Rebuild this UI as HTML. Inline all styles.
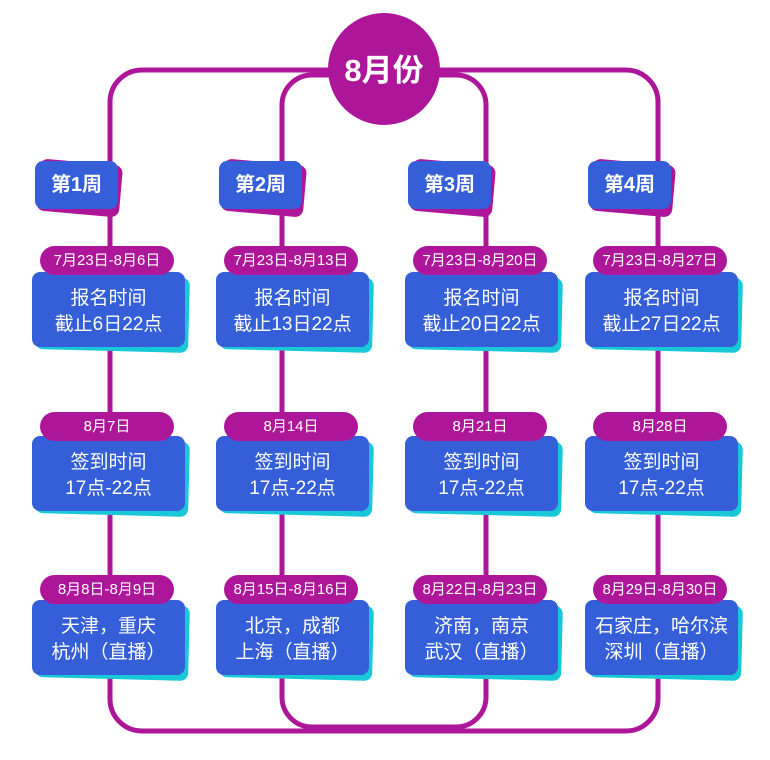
<!DOCTYPE html>
<html><head><meta charset="utf-8"><style>
body{margin:0;width:770px;height:760px;background:#fff;position:relative;overflow:hidden;font-family:"Liberation Sans","Noto Sans CJK SC",sans-serif;}
.a{position:absolute}
.box{position:absolute;width:153px;height:75px;background:#345fd8;border-radius:8px;color:#fff;font-size:19px;line-height:26px;text-align:center;box-sizing:border-box;padding-top:14px}
.sh{position:absolute;width:153px;height:75px;background:#19c8d6;border-radius:8px;transform:rotate(1.5deg);}
.pill{position:absolute;width:134px;height:29px;background:#ae169a;border-radius:15px;color:#fff;font-size:15px;line-height:29px;text-align:center}
.tag{position:absolute;width:83px;height:48px;background:#345fd8;border-radius:8px;color:#fff;font-size:20px;font-weight:bold;line-height:48px;text-align:center}
.tsh{position:absolute;width:83px;height:52px;background:#ae169a;border-radius:8px;transform:rotate(5deg)}
</style></head><body>
<svg class="a" style="left:0;top:0" width="770" height="760">
<rect x="110" y="70" width="548" height="661" rx="32" fill="none" stroke="#ae169a" stroke-width="5"/>
<rect x="282" y="75" width="204" height="652" rx="30" fill="none" stroke="#ae169a" stroke-width="5"/>
<circle cx="384" cy="69" r="56" fill="#ae169a"/>
<text x="384" y="81" text-anchor="middle" fill="#fff" font-size="31" font-weight="bold" font-family="Liberation Sans,Noto Sans CJK SC,sans-serif">8月份</text>
</svg>

<div class="tsh" style="left:38px;top:162px"></div><div class="tag" style="left:35px;top:161px">第1周</div>
<div class="tsh" style="left:222px;top:162px"></div><div class="tag" style="left:219px;top:161px">第2周</div>
<div class="tsh" style="left:411px;top:162px"></div><div class="tag" style="left:408px;top:161px">第3周</div>
<div class="tsh" style="left:591px;top:162px"></div><div class="tag" style="left:588px;top:161px">第4周</div>

<div class="sh" style="left:36px;top:276px"></div><div class="box" style="left:32px;top:272px">报名时间<br>截止6日22点</div><div class="pill" style="left:40px;top:246px">7月23日-8月6日</div>
<div class="sh" style="left:220px;top:276px"></div><div class="box" style="left:216px;top:272px">报名时间<br>截止13日22点</div><div class="pill" style="left:224px;top:246px">7月23日-8月13日</div>
<div class="sh" style="left:409px;top:276px"></div><div class="box" style="left:405px;top:272px">报名时间<br>截止20日22点</div><div class="pill" style="left:413px;top:246px">7月23日-8月20日</div>
<div class="sh" style="left:589px;top:276px"></div><div class="box" style="left:585px;top:272px">报名时间<br>截止27日22点</div><div class="pill" style="left:593px;top:246px">7月23日-8月27日</div>

<div class="sh" style="left:36px;top:440px"></div><div class="box" style="left:32px;top:436px">签到时间<br>17点-22点</div><div class="pill" style="left:40px;top:412px">8月7日</div>
<div class="sh" style="left:220px;top:440px"></div><div class="box" style="left:216px;top:436px">签到时间<br>17点-22点</div><div class="pill" style="left:224px;top:412px">8月14日</div>
<div class="sh" style="left:409px;top:440px"></div><div class="box" style="left:405px;top:436px">签到时间<br>17点-22点</div><div class="pill" style="left:413px;top:412px">8月21日</div>
<div class="sh" style="left:589px;top:440px"></div><div class="box" style="left:585px;top:436px">签到时间<br>17点-22点</div><div class="pill" style="left:593px;top:412px">8月28日</div>

<div class="sh" style="left:36px;top:604px"></div><div class="box" style="left:32px;top:600px">天津，重庆<br>杭州（直播）</div><div class="pill" style="left:40px;top:575px">8月8日-8月9日</div>
<div class="sh" style="left:220px;top:604px"></div><div class="box" style="left:216px;top:600px">北京，成都<br>上海（直播）</div><div class="pill" style="left:224px;top:575px">8月15日-8月16日</div>
<div class="sh" style="left:409px;top:604px"></div><div class="box" style="left:405px;top:600px">济南，南京<br>武汉（直播）</div><div class="pill" style="left:413px;top:575px">8月22日-8月23日</div>
<div class="sh" style="left:589px;top:604px"></div><div class="box" style="left:585px;top:600px">石家庄，哈尔滨<br>深圳（直播）</div><div class="pill" style="left:593px;top:575px">8月29日-8月30日</div>
</body></html>
